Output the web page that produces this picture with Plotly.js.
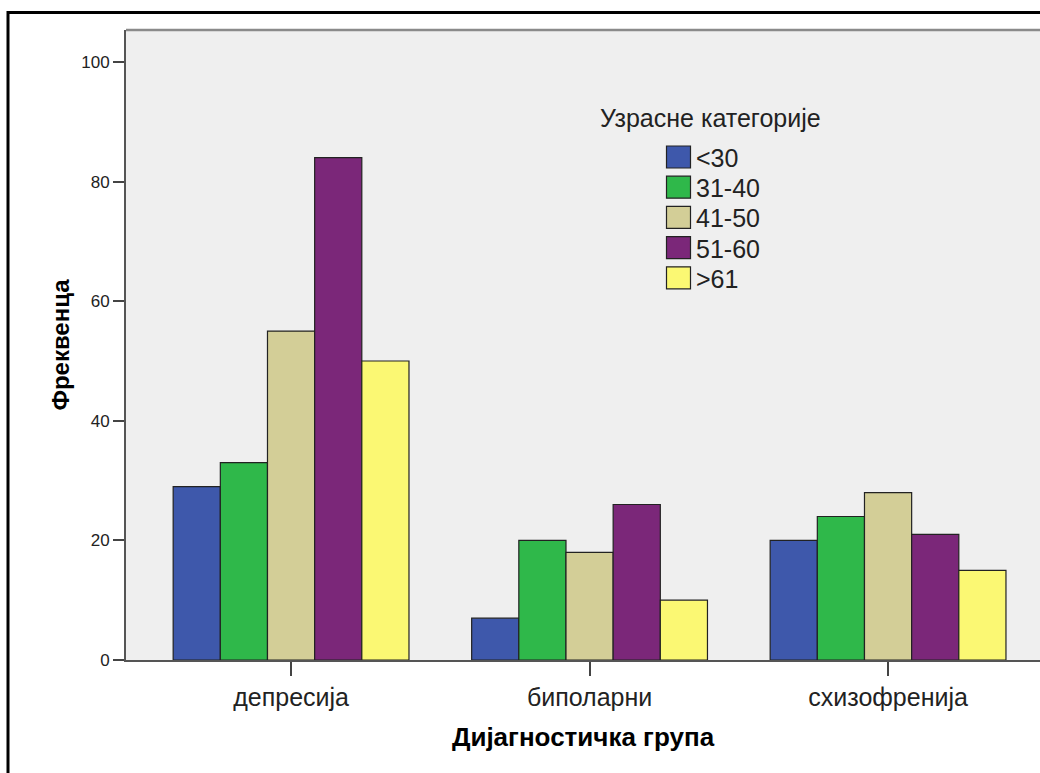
<!DOCTYPE html>
<html>
<head>
<meta charset="utf-8">
<script src="https://cdn.plot.ly/plotly-3.0.1.min.js"></script>
<style>html,body{margin:0;padding:0;background:#fff;}#chart{width:1040px;height:773px;}</style>
</head>
<body>
<div id="chart"></div>
<script>
const categories = ["депресија", "биполарни", "схизофренија"];
const seriesNames = ["<30", "31-40", "41-50", "51-60", ">61"];
const seriesColors = ["#3e58ab", "#2fb84a", "#d3ce97", "#7b2779", "#fbf873"];
const values_lt30 = [29, 7, 20];
const values_31_40 = [33, 20, 24];
const values_41_50 = [55, 18, 28];
const values_51_60 = [84, 26, 21];
const values_gt61 = [50, 10, 15];
const yTickVals = [0, 20, 40, 60, 80, 100];
const legendTitle = "Узрасне категорије";
const xTitle = "Дијагностичка група";
const yTitle = "Фреквенца";

const seriesValues = [values_lt30, values_31_40, values_41_50, values_51_60, values_gt61];
const FONT = "Liberation Sans, Arial, sans-serif";

const traces = seriesValues.map((vals, i) => ({
  type: "bar",
  name: seriesNames[i],
  x: categories,
  y: vals,
  marker: {color: seriesColors[i], line: {color: "#222", width: 1.2}},
  showlegend: false,
  hoverinfo: "x+y+name"
}));

// layout geometry (pixels): plot left 126, right 1040, top 30, bottom 660
const W = 1040, H = 773, L = 126, R = 0, T = 30, B = 113;
const pw = W - L - R, ph = H - T - B;
const px = (x) => (x - L) / pw;
const py = (y) => (H - B - y) / ph;

const shapes = [
  // outer frame
  {type: "rect", xref: "paper", yref: "paper", x0: px(8), x1: px(1060), y0: py(800), y1: py(12.5),
   line: {color: "#000", width: 3}, fillcolor: "rgba(0,0,0,0)", layer: "below"},
  // top border of plot area
  {type: "line", xref: "paper", yref: "paper", x0: 0, x1: 1, y0: 1, y1: 1, line: {color: "#8a8a8a", width: 2.5}}
];
const annotations = [
  {xref: "paper", yref: "paper", x: px(598), y: py(118), xanchor: "left", yanchor: "middle",
   text: legendTitle, showarrow: false, font: {family: FONT, size: 25, color: "#222"}}
];
seriesNames.forEach((name, i) => {
  const cy = 157 + i * 30.2;
  shapes.push({type: "rect", xref: "paper", yref: "paper", x0: px(666.5), x1: px(690.5), y0: py(cy + 11), y1: py(cy - 11),
    fillcolor: seriesColors[i], line: {color: "#222", width: 1.2}});
  annotations.push({xref: "paper", yref: "paper", x: px(694), y: py(cy + 1), xanchor: "left", yanchor: "middle",
    text: name, showarrow: false, font: {family: FONT, size: 25, color: "#222"}});
});

const layout = {
  width: W, height: H,
  margin: {l: L, r: R, t: T, b: B, pad: 0},
  paper_bgcolor: "#ffffff",
  plot_bgcolor: "#efefef",
  barmode: "group",
  bargap: 0.21,
  bargroupgap: 0,
  font: {family: FONT, color: "#222"},
  xaxis: {
    type: "category",
    range: [-0.553, 2.509],
    showgrid: false, zeroline: false,
    showline: true, linecolor: "#555", linewidth: 2,
    ticks: "outside", ticklen: 14, tickwidth: 2, tickcolor: "#444",
    tickfont: {family: FONT, size: 25, color: "#222"},
    title: {text: xTitle, font: {family: FONT, size: 26, color: "#000", weight: "bold"}, standoff: 18}
  },
  yaxis: {
    range: [0, 105.35],
    tickvals: yTickVals,
    showgrid: false, zeroline: false,
    showline: true, linecolor: "#555", linewidth: 2,
    ticks: "outside", ticklen: 11, tickwidth: 2, tickcolor: "#444",
    tickfont: {family: FONT, size: 17, color: "#222"},
    title: {text: yTitle, font: {family: FONT, size: 24, color: "#000", weight: "bold"}, standoff: 5}
  },
  shapes: shapes,
  annotations: annotations
};

Plotly.newPlot("chart", traces, layout, {staticPlot: true});
</script>
</body>
</html>
